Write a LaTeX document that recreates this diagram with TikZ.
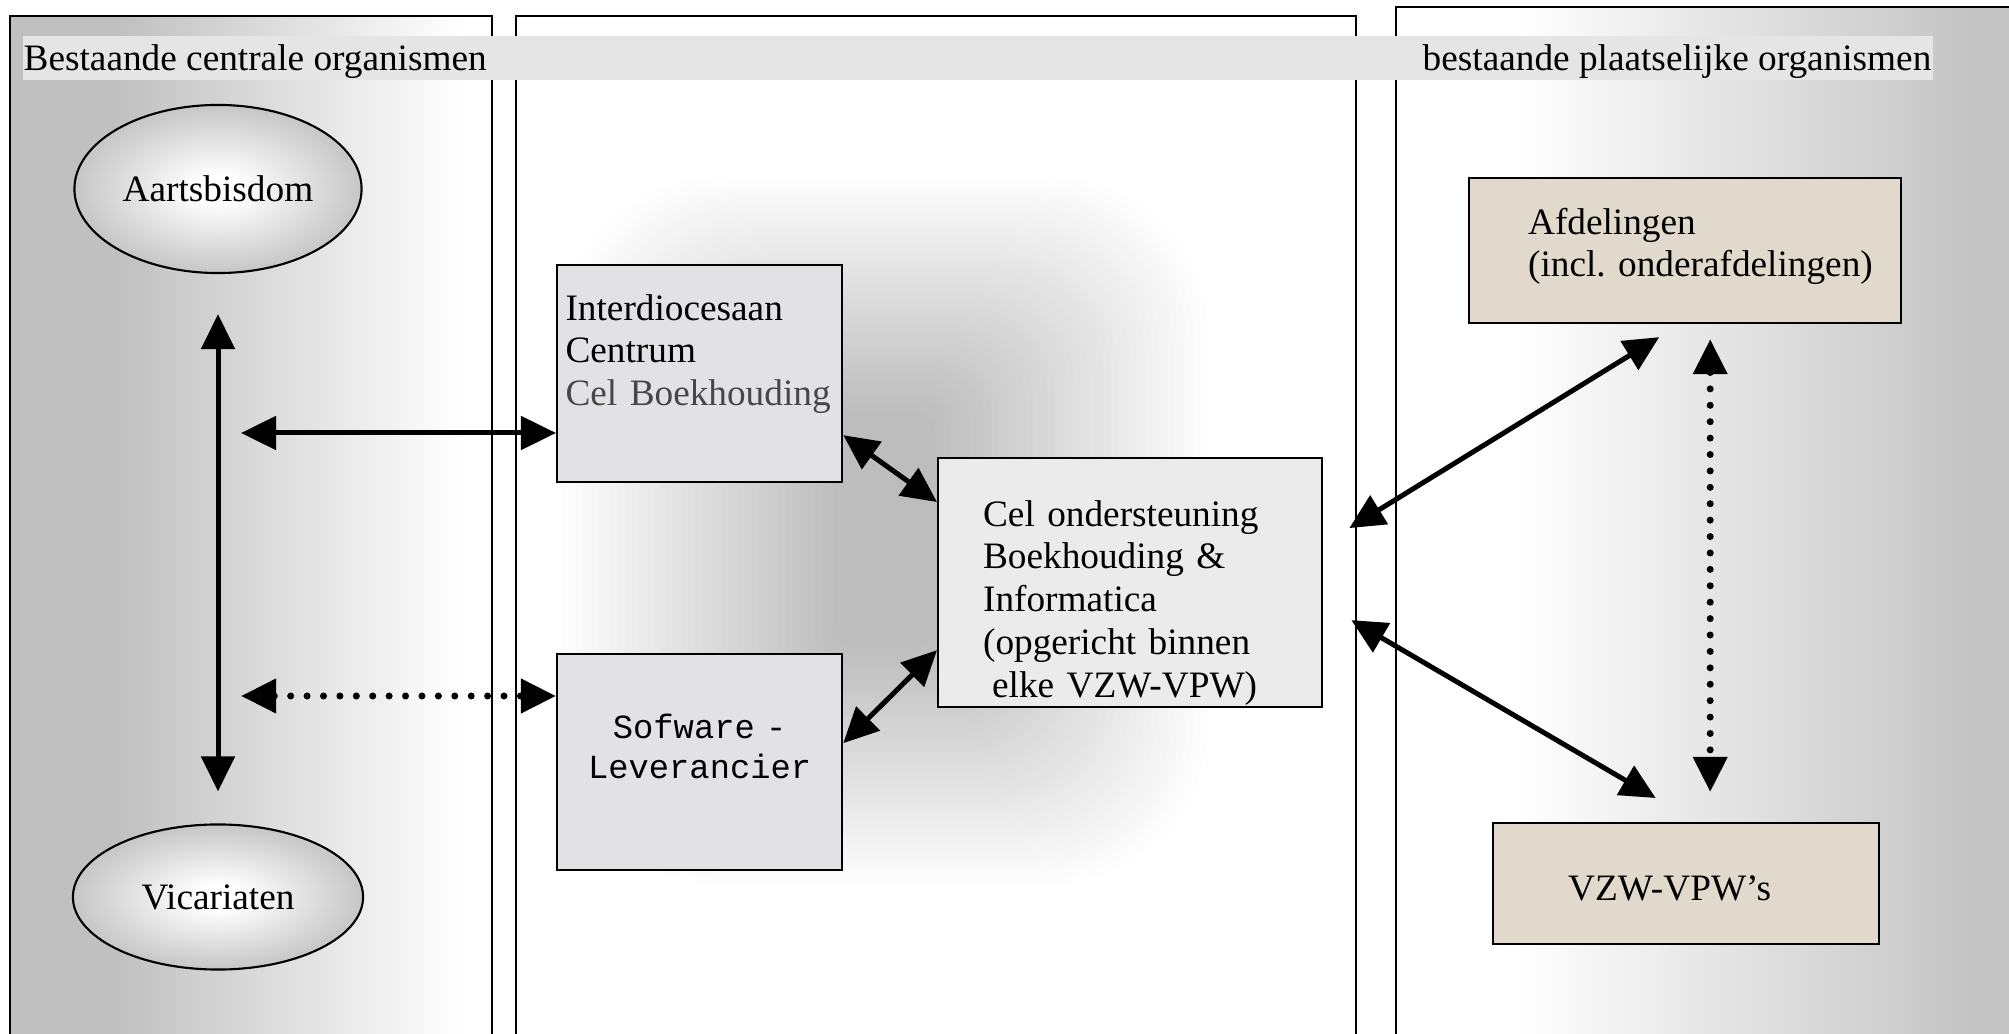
\documentclass[tikz,border=0pt]{standalone}
\usepackage{fontspec}
\setmainfont{Liberation Serif}
\setmonofont{Liberation Mono}
\usetikzlibrary{arrows.meta,shapes.geometric}

\definecolor{panelgray}{HTML}{C0C0C0}
\definecolor{rightgray}{HTML}{C3C3C3}
\definecolor{midgray}{HTML}{BDBDBD}
\definecolor{ovalgray}{HTML}{C6C6C6}
\definecolor{bargray}{HTML}{E5E5E5}
\definecolor{marble}{HTML}{E2E2E4}
\definecolor{granite}{HTML}{EBEBEB}
\definecolor{sand}{HTML}{E2D9CD}

\pgfdeclarehorizontalshading{leftpanel}{100bp}{color(0bp)=(panelgray); color(36bp)=(panelgray); color(72bp)=(white); color(100bp)=(white)}
\pgfdeclarehorizontalshading{rightpanel}{100bp}{color(0bp)=(white); color(34bp)=(white); color(69bp)=(rightgray); color(100bp)=(rightgray)}
\pgfdeclareradialshading{ovalglow}{\pgfpoint{0bp}{0bp}}{color(0bp)=(white); color(4bp)=(white); color(25bp)=(ovalgray); color(50bp)=(ovalgray)}

\def\tiplen{0.35cm}
\def\tipwid{0.33cm}

\tikzset{
  twoway/.style={line width=0.05cm, {Triangle[length=\tiplen,width=\tipwid]}-{Triangle[length=\tiplen,width=\tipwid]}},
  dotway/.style={twoway, line width=0.07cm, line cap=round, dash pattern=on 0pt off 0.164cm},
  txt/.style={font=\fontsize{10.6}{12.2}\selectfont},
  box/.style={draw, line width=0.6pt, anchor=north west, inner ysep=0pt, align=left, txt},
  orgoval/.style={draw, ellipse, line width=0.6pt, shade, shading=ovalglow, inner sep=0pt, txt},
}

\begin{document}
\begin{tikzpicture}[x=0.01cm,y=-0.01cm]
        \useasboundingbox (0,0) rectangle (2009,1034);
        \clip (0,0) rectangle (2009,1034);
        % left panel
        \shade[shading=leftpanel] (10,16) rectangle (492,1060);
        \draw[line width=0.45pt] (10,16) rectangle (492,1060);
        % middle panel, grey glow from the centre
        \fill[white] (516,16) rectangle (1356,1060);
        \foreach \k in {0,...,40}{
            \pgfmathsetmacro\hx{330-280*\k/40}
            \pgfmathsetmacro\hy{360-240*\k/40}
            \pgfmathsetmacro\pct{100*\k/40}
            \pgfmathsetmacro\rc{0.005*\hx}
            \fill[midgray!\pct, rounded corners=\rc cm] (885-\hx,530-\hy) rectangle (885+\hx,530+\hy);
        }
        \draw[line width=0.45pt] (516,16) rectangle (1356,1060);
        % right panel
        \shade[shading=rightpanel] (1396,7) rectangle (2060,1060);
        \draw[line width=0.45pt] (1396,7) rectangle (2060,1060);
        % title bar
        \fill[bargray] (23,36) rectangle (1933,80);
        \node[txt, anchor=base west, inner sep=0pt] (ttlleft) at (23,71) {Bestaande centrale organismen};
        \node[txt, anchor=base east, inner sep=0pt] (ttlright) at (1932,71) {bestaande plaatselijke organismen};
        % central organisms
        \node[orgoval, minimum width=2.87cm, minimum height=1.68cm] (aarts) at (218,189) {Aartsbisdom};
        \node[orgoval, minimum width=2.90cm, minimum height=1.45cm] (vic) at (218,897) {Vicariaten};
        % middle boxes
        \node[box, fill=marble, text width=2.68cm, inner xsep=0.085cm, text height=0.55cm, text depth=1.62cm] (idc) at (556,264)
            {Interdiocesaan\\Centrum\\\textcolor{black!72}{\mbox{Cel Boekhouding}}};
        \node[box, fill=marble, text width=2.55cm, inner xsep=0.15cm, text height=0.84cm, text depth=1.32cm, align=center,
            font=\fontsize{9.6}{11.4}\selectfont\ttfamily] (soft) at (556,653) {Sofware -\\Leverancier};
        \node[box, fill=granite, text width=2.94cm, inner xsep=0.45cm, text height=0.68cm, text depth=1.81cm] (cel) at (937,457)
            {Cel ondersteuning\\Boekhouding \&\\Informatica\\(opgericht binnen\\\hspace*{0.09cm}elke VZW-VPW)};
        % local organisms
        \node[box, fill=sand, text width=3.14cm, inner xsep=0.59cm, text height=0.56cm, text depth=0.89cm] (afd) at (1468,177)
            {Afdelingen\\\mbox{(incl.\ onderafdelingen)}};
        \node[box, fill=sand, text width=2.36cm, inner xsep=0.75cm, text height=0.77cm, text depth=0.44cm] (vzw) at (1492,822) {VZW-VPW’s};
        % arrows on the left
        \coordinate (hub1) at (241,433);
        \coordinate (hub2) at (241,696);
        \draw[twoway, shorten <=0.40cm, shorten >=0.32cm] (aarts.south) -- (vic.north);
        \draw[twoway] (hub1) -- (hub1 -| idc.west);
        \draw[dotway] (hub2) -- (hub2 -| soft.west);
        % arrows to the support cell
        \draw[twoway] ([yshift=0.48cm]idc.south east) -- ([yshift=-0.45cm]cel.north west);
        \draw[twoway] ([yshift=0.19cm]soft.east) -- ([yshift=0.58cm]cel.south west);
        \draw[twoway] ([xshift=0.26cm,yshift=0.545cm]cel.east) -- ([xshift=-0.26cm,yshift=-0.13cm]afd.south);
        \draw[twoway] ([xshift=0.28cm,yshift=-0.375cm]cel.east) -- ([xshift=-0.305cm,yshift=0.24cm]vzw.north);
        \draw[dotway] ([xshift=0.25cm,yshift=-0.15cm]afd.south) -- ([xshift=0.24cm,yshift=0.30cm]vzw.north);
\end{tikzpicture}
\end{document}
